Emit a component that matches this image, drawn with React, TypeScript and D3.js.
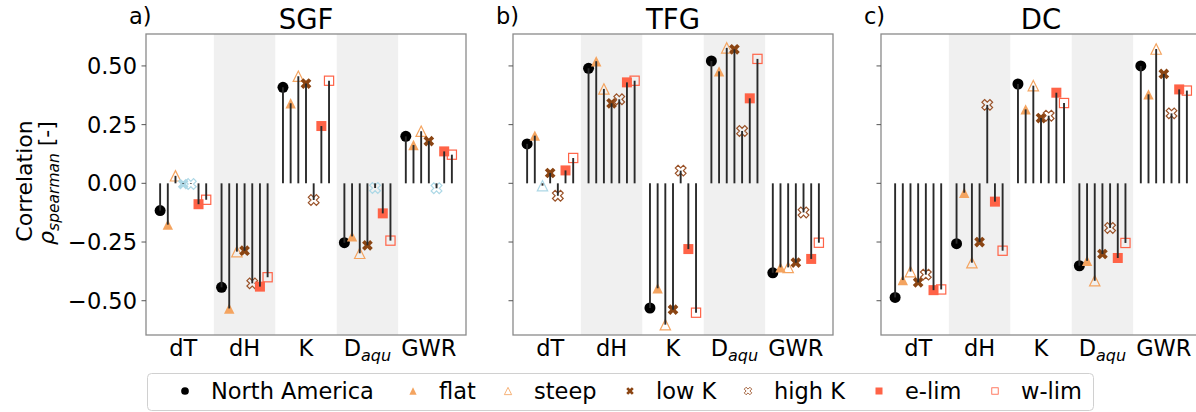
import React, { useRef, useEffect } from 'react';
import * as d3 from 'd3';

// categories on the x axis, scenarios drawn as stems inside each category
const categories = ['dT', 'dH', 'K', 'Daqu', 'GWR'];
const scenarios = ['North America', 'flat', 'steep', 'low K', 'high K', 'e-lim', 'w-lim'];
const panelTitles = ['SGF', 'TFG', 'DC'];
const panelLetters = ['a)', 'b)', 'c)'];
const yTicks = [-0.5, -0.25, 0, 0.25, 0.5];

// spearman correlation, one row per category, one value per scenario
const sgfValues = [
    [-0.116, -0.176, 0.032, -0.003, -0.003, -0.089, -0.070],
    [-0.443, -0.533, -0.291, -0.287, -0.426, -0.440, -0.400],
    [0.409, 0.341, 0.456, 0.425, -0.071, 0.244, 0.437],
    [-0.253, -0.226, -0.298, -0.264, -0.020, -0.128, -0.244],
    [0.200, 0.163, 0.222, 0.180, -0.021, 0.136, 0.122],
];
const tfgValues = [
    [0.168, 0.203, -0.010, 0.044, -0.053, 0.055, 0.108],
    [0.490, 0.520, 0.402, 0.341, 0.358, 0.430, 0.437],
    [-0.531, -0.447, -0.602, -0.538, 0.054, -0.280, -0.551],
    [0.521, 0.477, 0.577, 0.571, 0.223, 0.362, 0.530],
    [-0.381, -0.358, -0.358, -0.338, -0.124, -0.322, -0.253],
];
const dcValues = [
    [-0.486, -0.412, -0.376, -0.422, -0.389, -0.455, -0.452],
    [-0.257, -0.040, -0.338, -0.250, 0.334, -0.078, -0.287],
    [0.423, 0.315, 0.416, 0.278, 0.288, 0.386, 0.342],
    [-0.351, -0.330, -0.415, -0.301, -0.190, -0.318, -0.254],
    [0.500, 0.379, 0.572, 0.466, 0.298, 0.400, 0.395],
];

// not significant -> drawn light blue
const sgfInsignificant = [['dT', 'low K'], ['dT', 'high K'], ['Daqu', 'high K'], ['GWR', 'high K']];
const tfgInsignificant = [['dT', 'steep']];
const dcInsignificant: string[][] = [];

const markerStyles = [
    { shape: 'circle', color: 'black', filled: true },
    { shape: 'triangle', color: '#f4a460', filled: true },
    { shape: 'triangle', color: '#f4a460', filled: false },
    { shape: 'x', color: '#8b4513', filled: true },
    { shape: 'x', color: '#9a5228', filled: false },
    { shape: 'square', color: '#ff6347', filled: true },
    { shape: 'square', color: '#ff6347', filled: false },
];

const FONT = 'DejaVu Sans, sans-serif';

function drawMarker(g, idx, cx, cy, color, k = 1) {
    const st = markerStyles[idx];
    const fill = st.filled ? color : 'none';
    const stroke = st.filled ? 'none' : color;
    const sw = 1.2 * k;
    if (st.shape === 'circle') {
        g.append('circle').attr('cx', cx).attr('cy', cy).attr('r', 5.5 * k).attr('fill', fill);
    } else if (st.shape === 'triangle') {
        const s = 5.2 * k;
        g.append('path')
            .attr('d', `M${cx},${cy - s}L${cx + s},${cy + s}L${cx - s},${cy + s}Z`)
            .attr('fill', fill).attr('stroke', stroke).attr('stroke-width', sw);
    } else if (st.shape === 'x') {
        g.append('path')
            .attr('d', d3.symbol(d3.symbolCross, 72 * k * k)())
            .attr('transform', `translate(${cx},${cy}) rotate(45)`)
            .attr('fill', fill).attr('stroke', stroke).attr('stroke-width', sw);
    } else {
        const s = (st.filled ? 10 : 9.2) * k;
        g.append('rect')
            .attr('x', cx - s / 2).attr('y', cy - s / 2)
            .attr('width', s).attr('height', s)
            .attr('fill', fill).attr('stroke', stroke).attr('stroke-width', sw);
    }
}

export default function App() {
    const ref = useRef<SVGSVGElement>(null);

    useEffect(() => {
        const svg = d3.select(ref.current);
        svg.selectAll('*').remove();

        const panelLefts = [146, 513, 881];
        const panelWidth = 320;
        const top = 34;
        const bottom = 335;
        const panelValues = [sgfValues, tfgValues, dcValues];
        const panelInsig = [sgfInsignificant, tfgInsignificant, dcInsignificant];

        const y = d3.scaleLinear().domain([-0.646, 0.636]).range([bottom, top]);
        const offset = d3.scaleLinear().domain([0, scenarios.length - 1]).range([-0.375, 0.375]);

        panelTitles.forEach((title, p) => {
            const x0 = panelLefts[p];
            const x = d3.scaleLinear().domain([-0.605, 4.605]).range([x0, x0 + panelWidth]);
            const g = svg.append('g');

            // shaded bands for every other category
            categories.forEach((c, i) => {
                if (i % 2 === 1) {
                    g.append('rect')
                        .attr('x', x(i - 0.5)).attr('y', top)
                        .attr('width', x(i + 0.5) - x(i - 0.5)).attr('height', bottom - top)
                        .attr('fill', '#f0f0f0');
                }
            });

            const isInsig = (c, s) => panelInsig[p].some(d => d[0] === c && d[1] === s);

            // markers first, stems drawn over them
            const marks = g.append('g');
            const stems = g.append('g');
            panelValues[p].forEach((row, i) => {
                row.forEach((v, j) => {
                    const cx = x(i + offset(j));
                    const color = isInsig(categories[i], scenarios[j]) ? '#add8e6' : markerStyles[j].color;
                    drawMarker(marks, j, cx, y(v), color);
                    stems.append('line')
                        .attr('x1', cx).attr('x2', cx)
                        .attr('y1', y(0)).attr('y2', y(v))
                        .attr('stroke', '#2a2a2a').attr('stroke-width', 1.9);
                });
            });

            // frame
            g.append('rect')
                .attr('x', x0).attr('y', top)
                .attr('width', panelWidth).attr('height', bottom - top)
                .attr('fill', 'none').attr('stroke', '#8a8a8a').attr('stroke-width', 1.3);

            // y ticks
            yTicks.forEach(t => {
                g.append('line')
                    .attr('x1', x0 - 4.5).attr('x2', x0)
                    .attr('y1', y(t)).attr('y2', y(t))
                    .attr('stroke', '#555').attr('stroke-width', 1);
                if (p === 0) {
                    g.append('text')
                        .attr('x', x0 - 9).attr('y', y(t)).attr('dy', '0.36em')
                        .attr('text-anchor', 'end')
                        .attr('font-size', 22.5)
                        .text(d3.format('.2f')(t).replace('-', '\u2212'));
                }
            });

            // x labels
            categories.forEach((c, i) => {
                const t = g.append('text')
                    .attr('x', x(i)).attr('y', 356)
                    .attr('text-anchor', 'middle')
                    .attr('font-size', 22.5);
                if (c === 'Daqu') {
                    t.append('tspan').text('D');
                    t.append('tspan').attr('font-size', 16).attr('font-style', 'italic').attr('dy', 4.5).text('aqu');
                } else {
                    t.text(c);
                }
            });

            g.append('text')
                .attr('x', x0 + panelWidth / 2).attr('y', 29)
                .attr('text-anchor', 'middle').attr('font-size', 27.5)
                .text(title);
            g.append('text')
                .attr('x', x0 - 17).attr('y', 24)
                .attr('font-size', 22.5)
                .text(panelLetters[p]);
        });

        // y axis label
        svg.append('text')
            .attr('transform', 'translate(32,181) rotate(-90)')
            .attr('text-anchor', 'middle').attr('font-size', 22)
            .text('Correlation');
        const yl = svg.append('text')
            .attr('transform', 'translate(54,183) rotate(-90)')
            .attr('text-anchor', 'middle').attr('font-size', 22);
        yl.append('tspan').attr('font-style', 'italic').text('\u03c1');
        yl.append('tspan').attr('font-style', 'italic').attr('font-size', 15.5).attr('dy', 4.5).text('spearman');
        yl.append('tspan').attr('dy', -4.5).text(' [-]');

        // legend
        const legendMarkerX = [185, 413, 508, 630, 748, 879, 995];
        const lg = svg.append('g');
        lg.append('rect')
            .attr('x', 147.5).attr('y', 373.5).attr('width', 946).attr('height', 37)
            .attr('rx', 4).attr('fill', 'white').attr('stroke', '#d0d0d0').attr('stroke-width', 1);
        scenarios.forEach((s, j) => {
            drawMarker(lg, j, legendMarkerX[j], 391, markerStyles[j].color, 0.7);
            lg.append('text')
                .attr('x', legendMarkerX[j] + 26).attr('y', 399)
                .attr('font-size', 22.5)
                .text(s);
        });
    }, []);

    return (
        <svg
            ref={ref}
            width={1196}
            height={412}
            style={{ position: 'absolute', left: 0, top: 0, fontFamily: FONT, background: 'white' }}
        />
    );
}
